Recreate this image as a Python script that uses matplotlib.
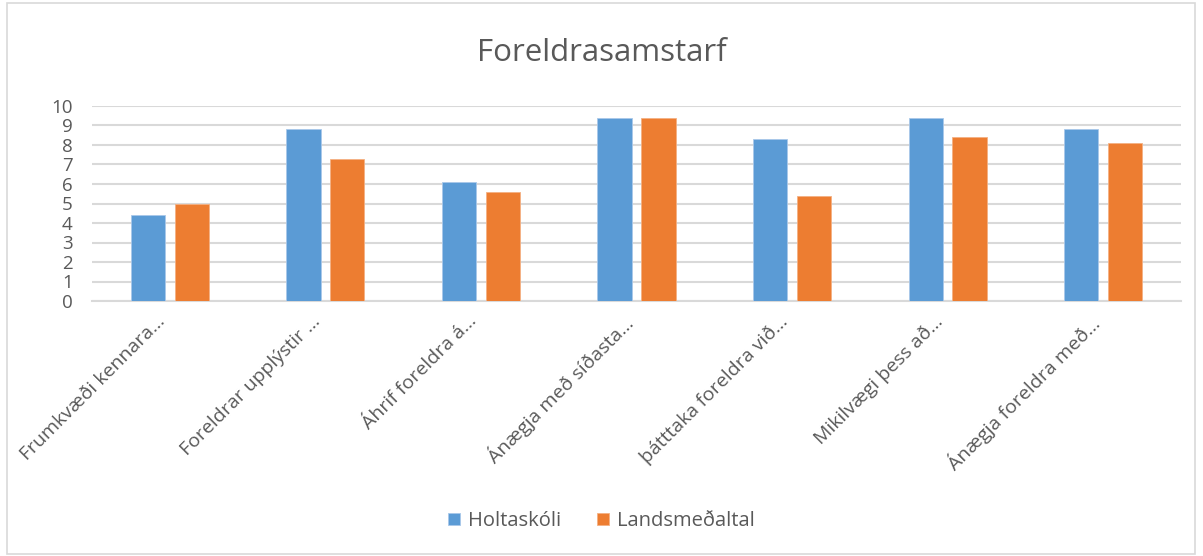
import numpy as np
import matplotlib
matplotlib.use('Agg')
import matplotlib.pyplot as plt
from matplotlib.patches import Rectangle
from matplotlib.transforms import ScaledTranslation

# Data
categories = [
    "Frumkvæði kennara…",
    "Foreldrar upplýstir …",
    "Áhrif foreldra á…",
    "Ánægja með síðasta…",
    "þátttaka foreldra við…",
    "Mikilvægi þess að…",
    "Ánægja foreldra með…",
]
holtaskoli = [4.4, 8.8, 6.1, 9.4, 8.3, 9.4, 8.8]
landsmedaltal = [5.0, 7.3, 5.6, 9.4, 5.4, 8.4, 8.1]
series_names = ["Holtaskóli", "Landsmeðaltal"]
yticks = list(range(0, 11))

plt.rcParams['font.family'] = ['Open Sans', 'DejaVu Sans']
text_color = '#595959'
grid_color = '#d9d9d9'
blue = '#5b9bd5'
orange = '#ed7d31'

fig = plt.figure(figsize=(12.03, 5.56), dpi=100)
ax = fig.add_axes([92 / 1203, 1 - 301 / 556, (1181 - 92) / 1203, (301 - 106) / 556])

x = np.arange(len(categories))
width = 0.22
offset = 0.141
ax.bar(x - offset, holtaskoli, width, color=blue, edgecolor='#a9c8ea', linewidth=0.6,
       label=series_names[0], zorder=3)
ax.bar(x + offset, landsmedaltal, width, color=orange, edgecolor='#f4b183', linewidth=0.6,
       label=series_names[1], zorder=3)

ax.set_xlim(-0.5, len(categories) - 0.5)
ax.set_ylim(0, 10)
ax.set_yticks(yticks)
ax.set_yticklabels([str(t) for t in yticks], fontsize=13.5, color=text_color)
ax.yaxis.grid(True, color=grid_color, linewidth=1.5, zorder=0)
ax.tick_params(axis='y', length=0, pad=14)
ax.tick_params(axis='x', length=0, pad=8)
ax.set_xticks(x)
ax.set_xticklabels(categories, rotation=45, ha='right', va='top', rotation_mode='anchor',
                   fontsize=14, color=text_color)
# nudge the rotated labels left so their ends sit just left of the category centre
shift = ScaledTranslation(-14 / 100, 0, fig.dpi_scale_trans)
for lbl in ax.get_xticklabels():
    lbl.set_transform(lbl.get_transform() + shift)
for side in ['top', 'right', 'left']:
    ax.spines[side].set_visible(False)
ax.spines['bottom'].set_color(grid_color)
ax.spines['bottom'].set_linewidth(1.5)

fig.text(0.5, 1 - 53 / 556, "Foreldrasamstarf", ha='center', va='center',
         fontsize=22.5, color=text_color)

leg = fig.legend(loc='center', bbox_to_anchor=(0.5, 1 - 521 / 556), ncol=2,
                 frameon=False, fontsize=14.5, handlelength=0.6, handleheight=0.6,
                 columnspacing=1.8, handletextpad=0.4)
for t in leg.get_texts():
    t.set_color(text_color)

fig.patches.append(Rectangle((7 / 1203, 2 / 556), 1188 / 1203, 551 / 556,
                             transform=fig.transFigure, fill=False,
                             edgecolor='#d9d9d9', linewidth=1.2))

fig.savefig('out.png', dpi=100)
